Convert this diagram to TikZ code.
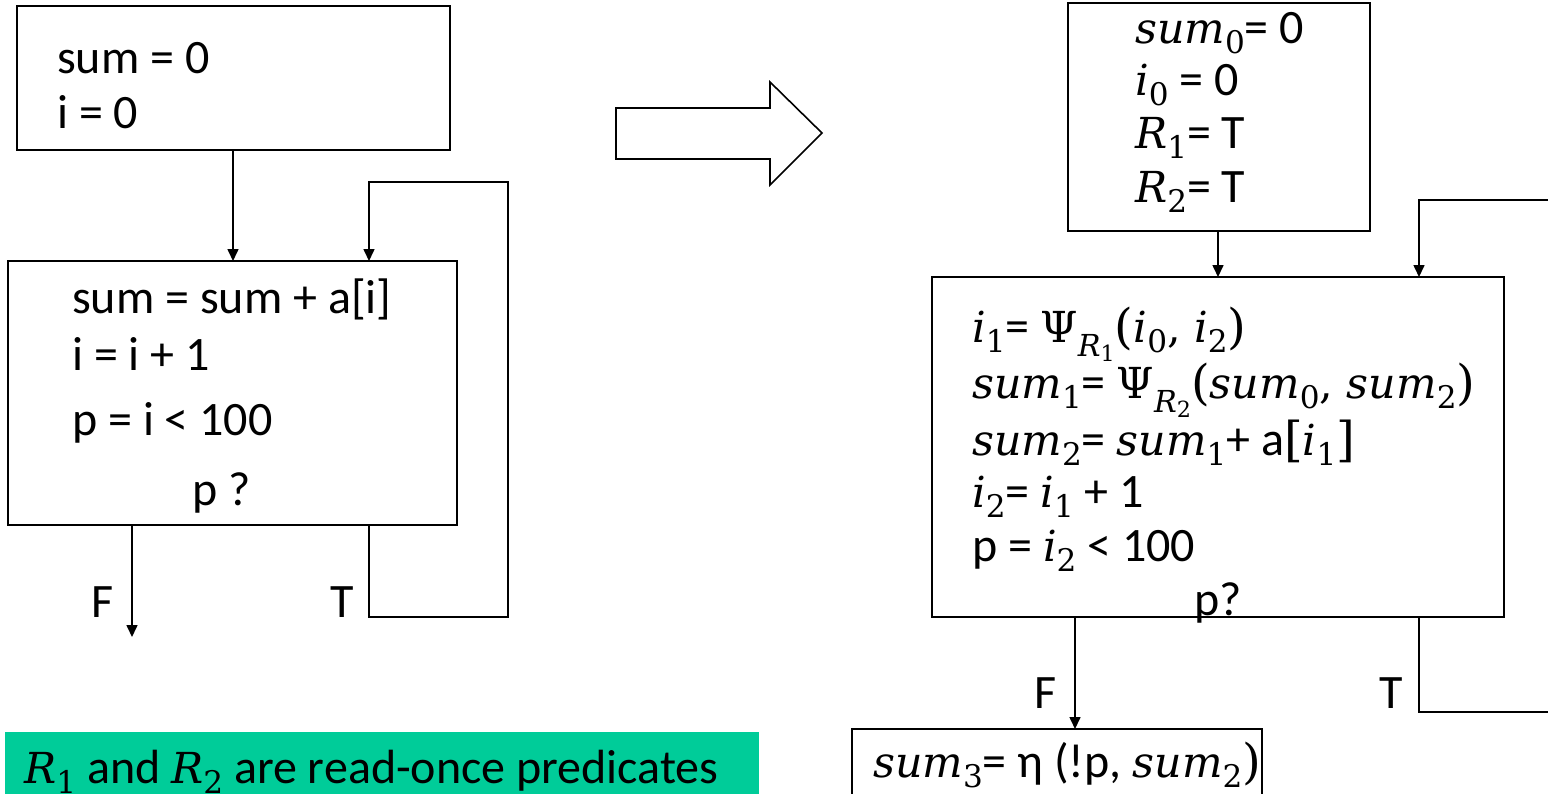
\documentclass[tikz,border=0pt]{standalone}
\usepackage{fontspec}
\setmainfont{Carlito}
\newfontfamily\mfont{DejaVu Serif}[Scale=0.89]
\usetikzlibrary{arrows.meta}
\definecolor{greenbg}{RGB}{0,204,153}
% math-like variables (Cambria Math look)
\newcommand\mv[1]{{\mfont\itshape #1}}
\newcommand\mup[1]{{\mfont #1}}
\newcommand\mpar[1]{\raisebox{-0.04em}{\fontsize{54}{54}\selectfont\mfont #1}}
\newcommand\sub[1]{\raisebox{-0.22em}{\fontsize{35}{35}\selectfont\mfont #1}}
\newcommand\subR[1]{\raisebox{-0.3em}{\fontsize{34}{34}\selectfont\mfont\itshape R\raisebox{-0.18em}{\fontsize{25}{25}\selectfont\upshape #1}}}
\tikzset{
  box/.style={draw=black, line width=1.6pt},
  conn/.style={draw=black, line width=1.6pt},
  arr/.style={conn, -{Triangle[length=12pt,width=11pt]}},
  txt/.style={anchor=base west, inner sep=0pt, font=\fontsize{48}{56}\selectfont},
}
\begin{document}
\begin{tikzpicture}[x=1pt,y=-1pt]
\useasboundingbox (0,0) rectangle (1548,793);
% ---------- left side ----------
\path[box] (17,6) rectangle (450,150);
\coordinate (ltop) at (233,150);
\node[txt] (l1) at (57,73) {sum = 0};
\node[txt] (l2) at (57,128) {i = 0};

\path[box] (8,261) rectangle (457,525);
\coordinate (lmain) at (233,261);
\node[txt] (m1) at (72,313) {sum = sum + a[i]};
\node[txt] (m2) at (72,370) {i = i + 1};
\node[txt] (m3) at (72,435) {p = i < 100};
\node[txt] (m4) at (192,505) {p ?};

\draw[arr] (ltop) -- (lmain);
\coordinate (lloopS) at (369,525);
\coordinate (lloopE) at (369,261);
\draw[arr] (lloopS) |- (508,617) |- (369,182) -- (lloopE);
\coordinate (lfS) at (132,525);
\coordinate (lfE) at (132,637);
\draw[arr] (lfS) -- (lfE);
\node[txt] (lF) at (91,617) {F};
\node[txt] (lT) at (330,617) {T};

% ---------- block arrow ----------
\draw[line width=1.6pt, line join=miter] (616,108) -- (770,108) -- (770,82) -- (822,133) -- (770,185) -- (770,159) -- (616,159) -- cycle;

% ---------- right side ----------
\path[box] (1068,3) rectangle (1370,231);
\node[txt] (r1) at (1135,43) {\mv{sum}\sub{0}= 0};
\node[txt] (r2) at (1135,95) {\mv{i}\sub{0} = 0};
\node[txt] (r3) at (1135,148) {\mv{R}\sub{1}= T};
\node[txt] (r4) at (1135,202) {\mv{R}\sub{2}= T};

\path[box] (932,277) rectangle (1504,617);
\node[txt] (s1) at (972,342) {\mv{i}\sub{1}= \mup{Ψ}\subR{1}\mpar{(}\mv{i}\sub{0}\mup{, }\mv{i}\sub{2}\mpar{)}};
\node[txt] (s2) at (972,398) {\mv{sum}\sub{1}= \mup{Ψ}\subR{2}\mpar{(}\mv{sum}\sub{0}\mup{, }\mv{sum}\sub{2}\mpar{)}};
\node[txt] (s3) at (972,455) {\mv{sum}\sub{2}= \mv{sum}\sub{1}+ a\mpar{[}\mv{i}\sub{1}\mpar{]}};
\node[txt] (s4) at (972,507) {\mv{i}\sub{2}= \mv{i}\sub{1} + 1};
\node[txt] (s5) at (972,561) {p = \mv{i}\sub{2} < 100};
\node[txt] (s6) at (1194,615) {p?};

\draw[arr] (1218,231) -- (1218,277);
\coordinate (rloopIn) at (1548,200);
\draw[arr] (rloopIn) -- (1419,200) -- (1419,277);
\coordinate (rloopOut) at (1548,712);
\draw[conn] (1419,617) |- (rloopOut);
\node[txt] (rT) at (1379,708) {T};

\path[box] (852,729) rectangle (1262,800);
\node[txt] (b1) at (873,777) {\mv{sum}\sub{3}= η (!p, \mv{sum}\sub{2}\mpar{)}};
\draw[arr] (1075,617) -- (1075,729);
\node[txt] (rF) at (1034,708) {F};

% ---------- green note ----------
\fill[greenbg] (5,732) rectangle (759,800);
\node[txt] (note) at (24,783) {\mv{R}\sub{1} and \mv{R}\sub{2} are read-once predicates};
\end{tikzpicture}
\end{document}
